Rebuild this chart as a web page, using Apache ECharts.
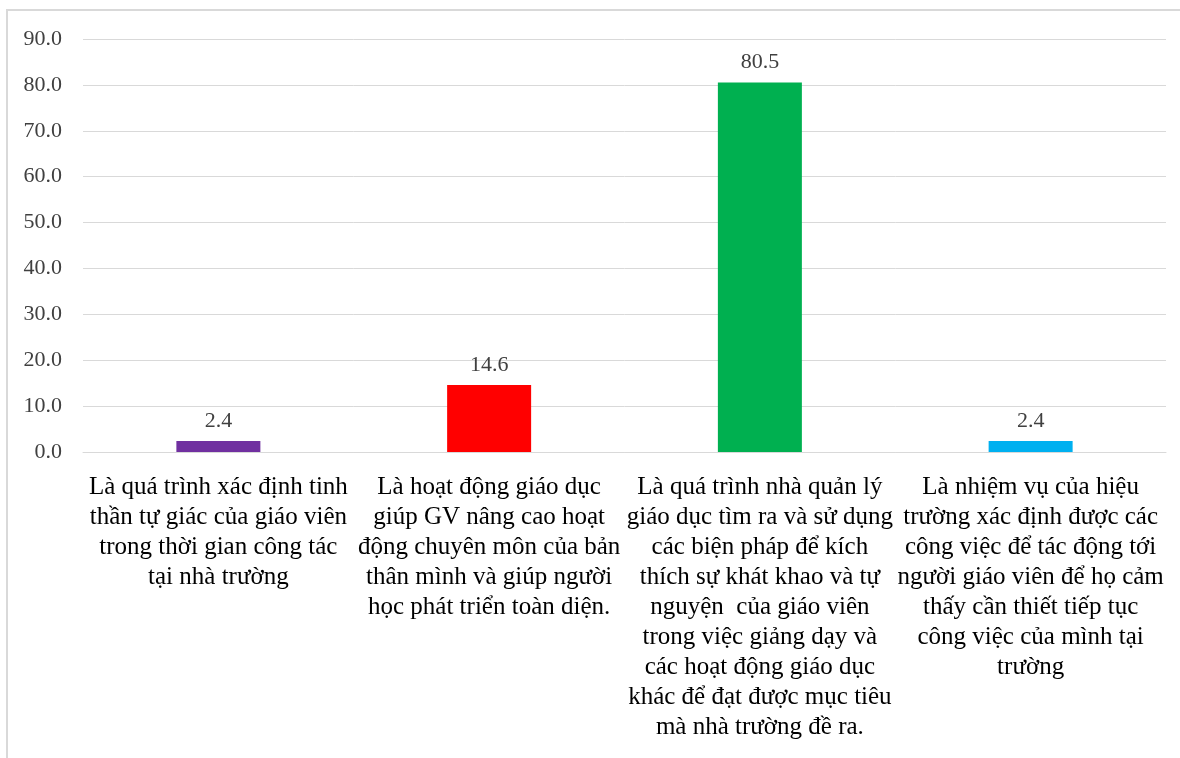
<!DOCTYPE html>
<html>
<head>
<meta charset="utf-8">
<script src="https://cdn.jsdelivr.net/npm/echarts@6/dist/echarts.min.js"></script>
<style>
  html, body { margin: 0; padding: 0; background: #fff; }
  #chart { width: 1180px; height: 758px; }
</style>
</head>
<body>
<div id="chart"></div>
<script>
// Category labels, broken into lines as printed under each bar
const categories = [
  "Là quá trình xác định tinh\nthần tự giác của giáo viên\ntrong thời gian công tác\ntại nhà trường",
  "Là hoạt động giáo dục\ngiúp GV nâng cao hoạt\nđộng chuyên môn của bản\nthân mình và giúp người\nhọc phát triển toàn diện.",
  "Là quá trình nhà quản lý\ngiáo dục tìm ra và sử dụng\ncác biện pháp để kích\nthích sự khát khao và tự\nnguyện  của giáo viên\ntrong việc giảng dạy và\ncác hoạt động giáo dục\nkhác để đạt được mục tiêu\nmà nhà trường đề ra.",
  "Là nhiệm vụ của hiệu\ntrường xác định được các\ncông việc để tác động tới\nngười giáo viên để họ cảm\nthấy cần thiết tiếp tục\ncông việc của mình tại\ntrường"
];
const values = [2.4, 14.6, 80.5, 2.4];
const barColors = ["#7030A0", "#FF0000", "#00B050", "#00B0F0"];

const serif = "'Liberation Serif', 'DejaVu Serif', serif";
const chart = echarts.init(document.getElementById('chart'), null, { renderer: 'canvas' });

chart.setOption({
  animation: false,
  backgroundColor: '#ffffff',
  graphic: [{
    type: 'rect',
    shape: { x: 7, y: 10, width: 1200, height: 800 },
    style: { fill: 'none', stroke: '#d9d9d9', lineWidth: 2 },
    silent: true
  }],
  grid: { left: 83, right: 14, top: 39, bottom: 306 },
  xAxis: {
    type: 'category',
    data: categories,
    axisLine: { show: true, lineStyle: { color: '#d9d9d9', width: 1 } },
    axisTick: { show: false },
    axisLabel: {
      interval: 0,
      margin: 20,
      color: '#000000',
      fontFamily: serif,
      fontSize: 25,
      lineHeight: 30,
      align: 'center'
    }
  },
  yAxis: {
    type: 'value',
    min: 0,
    max: 90,
    interval: 10,
    axisLine: { show: false },
    axisTick: { show: false },
    splitLine: { lineStyle: { color: '#d9d9d9', width: 1 } },
    axisLabel: {
      margin: 21,
      color: '#404040',
      fontFamily: serif,
      fontSize: 22,
      formatter: v => v.toFixed(1)
    }
  },
  series: [{
    type: 'bar',
    data: values.map((v, i) => ({ value: v, itemStyle: { color: barColors[i] } })),
    barWidth: 84,
    label: {
      show: true,
      position: 'top',
      distance: 9,
      color: '#404040',
      fontFamily: serif,
      fontSize: 22,
      formatter: p => p.value.toFixed(1)
    }
  }]
});
</script>
</body>
</html>
